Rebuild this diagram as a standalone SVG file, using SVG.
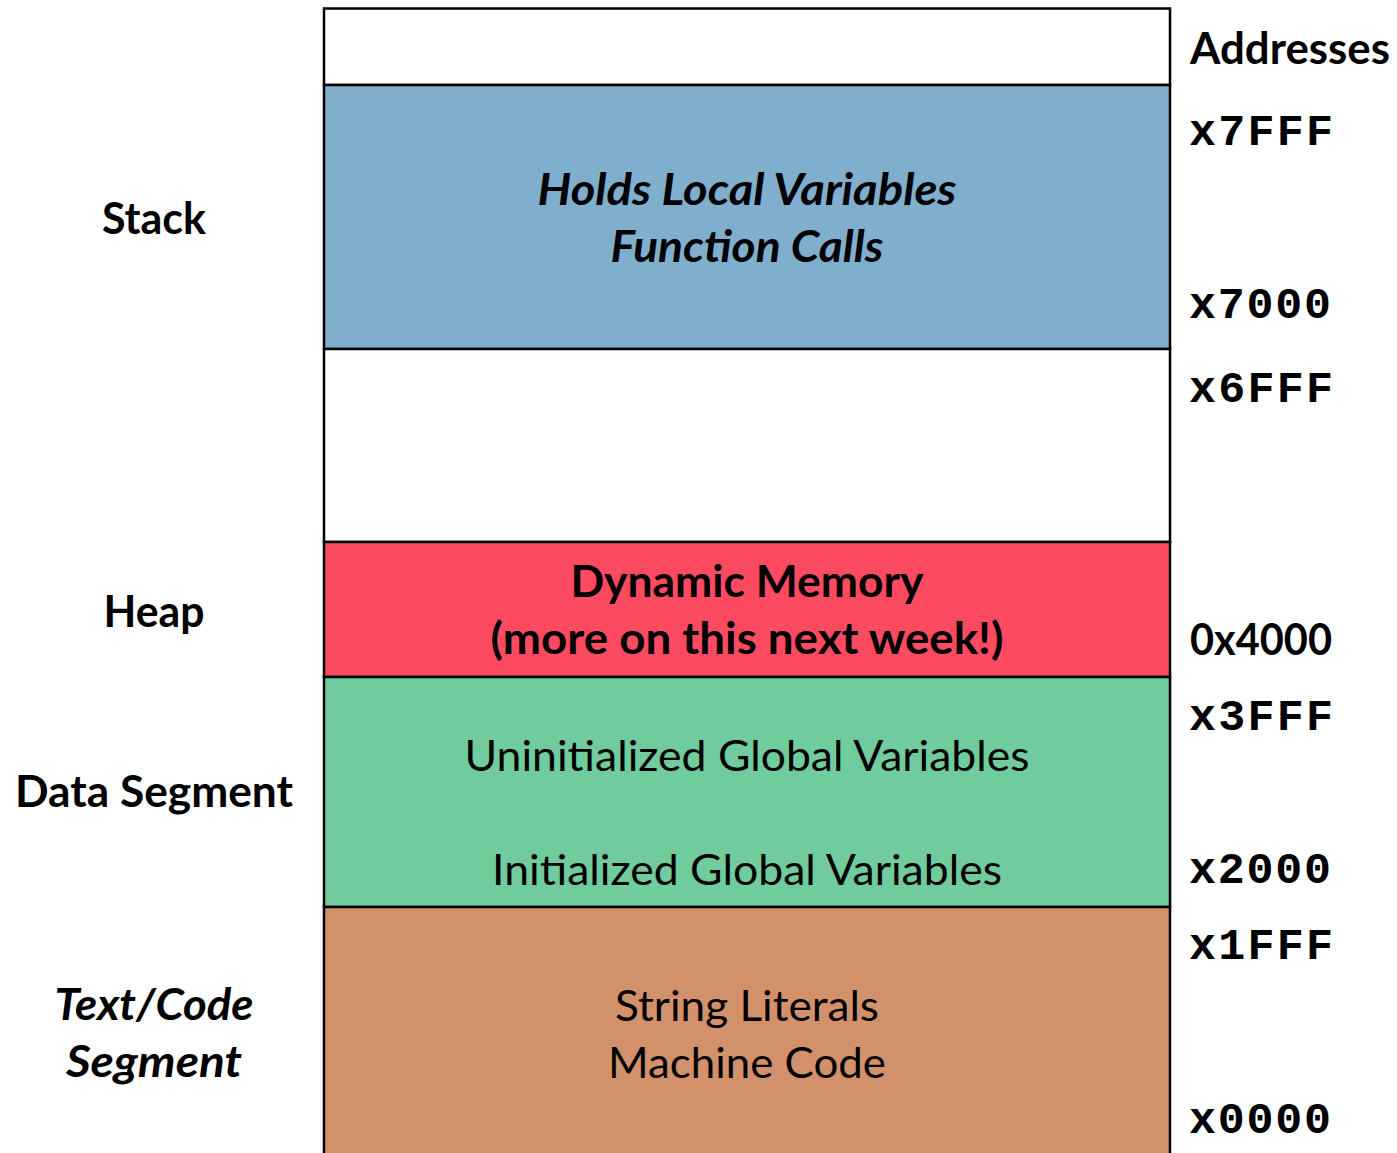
<svg xmlns="http://www.w3.org/2000/svg" width="1397" height="1153" viewBox="0 0 1397 1153">
  <style>
    .seg { stroke: #000; stroke-width: 2.5; }
    .lbl { font-family: Lato, "Open Sans", "Liberation Sans", sans-serif; font-size: 43px; fill: #000; }
    .b { font-weight: bold; }
    .i { font-style: italic; }
    .mid { text-anchor: middle; }
    .addr { font-family: "Liberation Mono", "DejaVu Sans Mono", monospace; font-weight: bold; font-size: 45px; fill: #000; }
  </style>

  <rect width="1397" height="1153" fill="#ffffff"/>

  <!-- memory segments, top (high addresses) to bottom (low addresses) -->
  <g id="free-top">
    <rect class="seg" x="324" y="8.5" width="846" height="76.5" fill="#ffffff"/>
  </g>
  <g id="stack">
    <rect class="seg" x="324" y="85" width="846" height="264" fill="#7FAFCD"/>
    <text class="lbl b i mid" x="747" y="205" textLength="419" lengthAdjust="spacingAndGlyphs">Holds Local Variables</text>
    <text class="lbl b i mid" x="747" y="262" textLength="273" lengthAdjust="spacingAndGlyphs">Function Calls</text>
  </g>
  <g id="free-middle">
    <rect class="seg" x="324" y="349" width="846" height="193" fill="#ffffff"/>
  </g>
  <g id="heap">
    <rect class="seg" x="324" y="542" width="846" height="135" fill="#FC4A61"/>
    <text class="lbl b mid" x="747" y="597" textLength="353" lengthAdjust="spacingAndGlyphs">Dynamic Memory</text>
    <text class="lbl b mid" x="747" y="654" textLength="513" lengthAdjust="spacingAndGlyphs">(more on this next week!)</text>
  </g>
  <g id="data">
    <rect class="seg" x="324" y="677" width="846" height="230" fill="#70CC9C"/>
    <text class="lbl mid" x="747" y="771" textLength="565" lengthAdjust="spacingAndGlyphs">Uninitialized Global Variables</text>
    <text class="lbl mid" x="747" y="885" textLength="510" lengthAdjust="spacingAndGlyphs">Initialized Global Variables</text>
  </g>
  <g id="text-code">
    <rect class="seg" x="324" y="907" width="846" height="260" fill="#D2916B"/>
    <text class="lbl mid" x="747" y="1021" textLength="264" lengthAdjust="spacingAndGlyphs">String Literals</text>
    <text class="lbl mid" x="747" y="1078" textLength="278" lengthAdjust="spacingAndGlyphs">Machine Code</text>
  </g>

  <!-- segment names on the left -->
  <g id="segment-names">
    <text class="lbl b mid" x="154" y="234" textLength="104" lengthAdjust="spacingAndGlyphs">Stack</text>
    <text class="lbl b mid" x="154" y="627" textLength="101" lengthAdjust="spacingAndGlyphs">Heap</text>
    <text class="lbl b mid" x="154" y="807" textLength="278" lengthAdjust="spacingAndGlyphs">Data Segment</text>
    <text class="lbl b i mid" x="154" y="1020" textLength="199" lengthAdjust="spacingAndGlyphs">Text/Code</text>
    <text class="lbl b i mid" x="154" y="1077" textLength="176" lengthAdjust="spacingAndGlyphs">Segment</text>
  </g>

  <!-- address column on the right -->
  <g id="addresses">
    <text class="lbl b" x="1190" y="64" textLength="200" lengthAdjust="spacingAndGlyphs">Addresses</text>
    <text class="addr" x="1189" y="145" textLength="144" lengthAdjust="spacing">x7FFF</text>
    <text class="addr" x="1189" y="318" textLength="142" lengthAdjust="spacing">x7000</text>
    <text class="addr" x="1189" y="402" textLength="144" lengthAdjust="spacing">x6FFF</text>
    <text class="lbl b" x="1190" y="655" textLength="142" lengthAdjust="spacingAndGlyphs">0x4000</text>
    <text class="addr" x="1189" y="730" textLength="144" lengthAdjust="spacing">x3FFF</text>
    <text class="addr" x="1189" y="883" textLength="142" lengthAdjust="spacing">x2000</text>
    <text class="addr" x="1189" y="959" textLength="144" lengthAdjust="spacing">x1FFF</text>
    <text class="addr" x="1189" y="1133" textLength="142" lengthAdjust="spacing">x0000</text>
  </g>
</svg>
